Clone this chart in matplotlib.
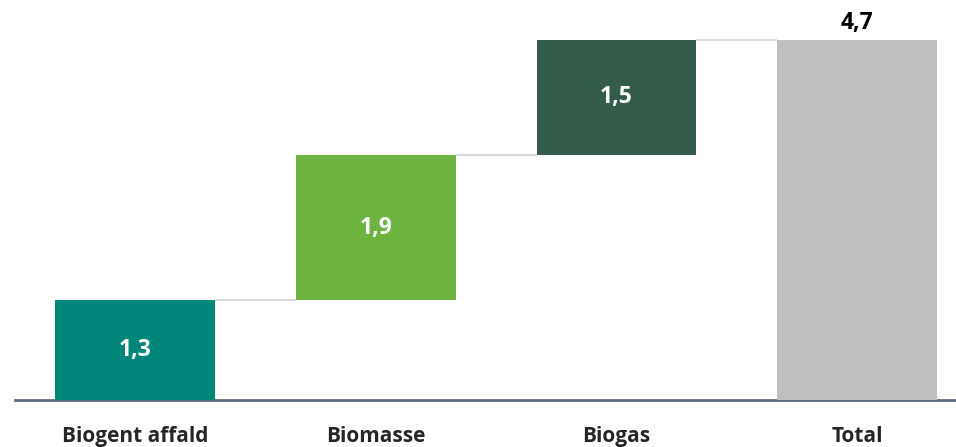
import matplotlib.pyplot as plt
import numpy as np

categories = ["Biogent affald", "Biomasse", "Biogas", "Total"]
values = [1.3, 1.9, 1.5]
total = 4.7
labels = ["1,3", "1,9", "1,5", "4,7"]
colors = ["#00877A", "#6DB33F", "#335C4B", "#BFBFBF"]

plt.rcParams['font.family'] = ['Open Sans', 'DejaVu Sans']

fig = plt.figure(figsize=(9.56, 4.47), dpi=100)
ax = fig.add_axes([15 / 956, 47 / 447, 941 / 956, 400 / 447])

x = np.arange(len(categories))
bottoms = list(np.cumsum([0] + values[:-1])) + [0]
heights = values + [total]
width = 0.664

ax.bar(x, heights, width, bottom=bottoms, color=colors, zorder=3)

# connector lines between steps
tops = [b + h for b, h in zip(bottoms, heights)]
for i in range(len(categories) - 1):
    ax.plot([x[i] + width / 2, x[i + 1] - width / 2], [tops[i], tops[i]],
            color="#D9D9D9", lw=1.5, zorder=2, solid_capstyle="butt")

# value labels
for i in range(3):
    ax.text(x[i], bottoms[i] + heights[i] / 2, labels[i], ha="center",
            va="center", color="white", fontsize=16.5, fontweight="bold")
ax.text(x[3], total + 0.06, labels[3], ha="center", va="bottom",
        color="black", fontsize=16.5, fontweight="bold")

ax.set_xlim(-0.498, 3.41)
ax.set_ylim(0, 5.22)
ax.set_yticks([])
ax.set_xticks(x)
ax.set_xticklabels(categories, fontsize=15, fontweight="bold", color="#262626")
ax.tick_params(axis="x", length=0, pad=19)
for s in ["top", "right", "left"]:
    ax.spines[s].set_visible(False)
ax.spines["bottom"].set_color("#5F6B80")
ax.spines["bottom"].set_linewidth(2)

fig.savefig("out.png", dpi=100)
